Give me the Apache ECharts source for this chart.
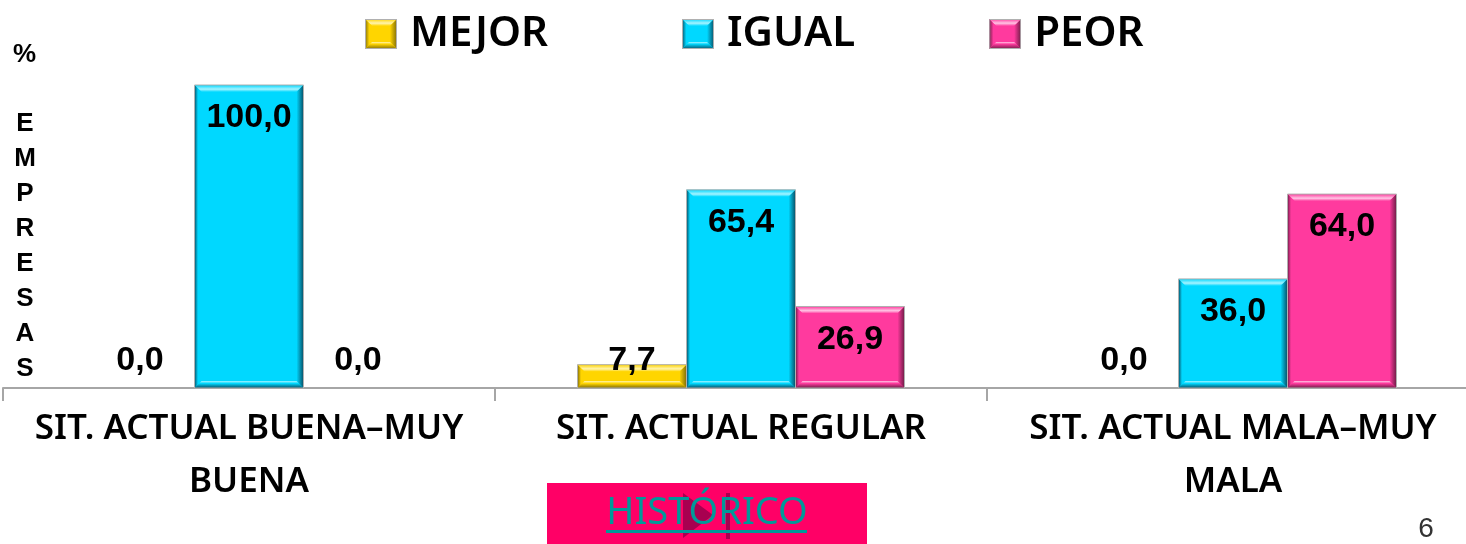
<!DOCTYPE html>
<html>
<head>
<meta charset="utf-8">
<title>Situacion actual</title>
<style>
html, body { margin: 0; padding: 0; background: #fff; }
#main { width: 1466px; height: 544px; }
</style>
<script src="https://cdn.jsdelivr.net/npm/echarts@6/dist/echarts.min.js"></script>
</head>
<body>
<div id="main"></div>
<script>
var categories = ['SIT. ACTUAL BUENA–MUY\nBUENA', 'SIT. ACTUAL REGULAR', 'SIT. ACTUAL MALA–MUY\nMALA'];
var seriesNames = ['MEJOR', 'IGUAL', 'PEOR'];
var mejor = [0.0, 7.7, 0.0];
var igual = [100.0, 65.4, 36.0];
var peor = [0.0, 26.9, 64.0];

// fill, highlight, shadow
var shades = {
    MEJOR: ['#ffd500', '#fff4b0', '#806c08'],
    IGUAL: ['#00d8ff', '#a6f3ff', '#084f66'],
    PEOR: ['#ff3a9e', '#ffc4e4', '#6e1c46']
};
var bevel = 7;

function gradient(x2, y2, stops) {
    return {
        type: 'linear', x: 0, y: 0, x2: x2, y2: y2,
        colorStops: stops.map(function (s) { return { offset: s[0], color: s[1] }; })
    };
}

function swatch(c) {
    var stops = function (id, x2, y2, list) {
        return '<linearGradient id="' + id + '" x1="0" y1="0" x2="' + x2 + '" y2="' + y2 + '">' +
            list.map(function (s) { return '<stop offset="' + s[0] + '" stop-color="' + s[1] + '"/>'; }).join('') +
            '</linearGradient>';
    };
    var svg = '<svg xmlns="http://www.w3.org/2000/svg" width="32" height="30"><defs>' +
        stops('t', 0, 1, [[0, c[0]], [0.6, c[1]], [1, c[0]]]) +
        stops('l', 1, 0, [[0, c[2]], [0.6, c[0]], [1, c[0]]]) +
        stops('r', 1, 0, [[0, c[0]], [1, c[2]]]) +
        stops('b', 0, 1, [[0, c[1]], [0.3, c[0]], [1, c[2]]]) +
        '</defs><rect width="32" height="30" fill="' + c[0] + '"/>' +
        '<polygon points="0,0 32,0 25,7 7,7" fill="url(#t)"/>' +
        '<polygon points="0,0 7,7 7,23 0,30" fill="url(#l)"/>' +
        '<polygon points="32,0 25,7 25,23 32,30" fill="url(#r)"/>' +
        '<polygon points="0,30 7,23 25,23 32,30" fill="url(#b)"/>' +
        '<rect x="0.5" y="0.5" width="31" height="29" fill="none" stroke="#b0b0b0"/>' +
        '</svg>';
    return 'image://data:image/svg+xml;charset=utf-8,' + encodeURIComponent(svg);
}

function renderBar(params, api) {
    var name = seriesNames[params.seriesIndex];
    var c = shades[name];
    var layout = api.barLayout({ count: 3, barWidth: 109, barGap: '0%' })[params.seriesIndex];
    var value = api.value(1);
    var top = api.coord([api.value(0), value]);
    var base = api.coord([api.value(0), 0]);
    var x0 = top[0] + layout.offsetCenter - layout.width / 2;
    var x1 = x0 + layout.width;
    var y0 = top[1];
    var y1 = base[1];
    var children = [];
    if (value > 0) {
        var b = Math.min(bevel, (y1 - y0) / 2);
        var face = function (pts, fill) {
            children.push({ type: 'polygon', shape: { points: pts }, style: { fill: fill } });
        };
        face([[x0, y0], [x1, y0], [x1, y1], [x0, y1]], c[0]);
        face([[x0, y0], [x1, y0], [x1 - b, y0 + b], [x0 + b, y0 + b]], gradient(0, 1, [[0, c[0]], [0.6, c[1]], [1, c[0]]]));
        face([[x0, y0], [x0 + b, y0 + b], [x0 + b, y1 - b], [x0, y1]], gradient(1, 0, [[0, c[2]], [0.5, c[0]], [1, c[0]]]));
        face([[x1, y0], [x1 - b, y0 + b], [x1 - b, y1 - b], [x1, y1]], gradient(1, 0, [[0, c[0]], [1, c[2]]]));
        face([[x0, y1], [x0 + b, y1 - b], [x1 - b, y1 - b], [x1, y1]], gradient(0, 1, [[0, c[1]], [0.35, c[0]], [1, c[2]]]));
        children.push({
            type: 'rect',
            shape: { x: x0, y: y0, width: x1 - x0, height: y1 - y0 },
            style: { fill: 'none', stroke: '#b0b0b0', lineWidth: 1 }
        });
    }
    children.push({
        type: 'text',
        z2: 10,
        style: {
            x: (x0 + x1) / 2,
            y: Math.min(y0 + 33, y1 - 27),
            text: value.toFixed(1).replace('.', ','),
            font: 'bold 34px "Liberation Sans", Arial, sans-serif',
            fill: '#000',
            align: 'center',
            verticalAlign: 'middle'
        }
    });
    return { type: 'group', children: children };
}

function makeSeries(name, values) {
    return {
        name: name,
        type: 'custom',
        renderItem: renderBar,
        encode: { x: 0, y: 1 },
        itemStyle: { color: shades[name][0] },
        data: values.map(function (v, i) { return [i, v]; })
    };
}

var myChart = echarts.init(document.getElementById('main'));
var option = {
    animation: false,
    backgroundColor: '#fff',
    legend: {
        left: 365,
        top: 13,
        padding: 0,
        itemWidth: 32,
        itemHeight: 30,
        itemGap: 134,
        textStyle: {
            fontFamily: '"Noto Sans", sans-serif',
            fontSize: 42,
            fontWeight: 600,
            color: '#000',
            padding: [0, 0, 6, 8]
        },
        data: seriesNames.map(function (n) {
            return { name: n, icon: swatch(shades[n]) };
        })
    },
    grid: { left: 3, top: 85, width: 1476, height: 303, outerBoundsMode: 'none' },
    xAxis: {
        type: 'category',
        data: categories,
        axisLine: { lineStyle: { color: '#a6a6a6', width: 2 } },
        axisTick: { show: true, length: 13, lineStyle: { color: '#a6a6a6', width: 2 } },
        axisLabel: {
            interval: 0,
            margin: 15,
            lineHeight: 53,
            fontFamily: '"Noto Sans", sans-serif',
            fontSize: 35,
            fontWeight: 600,
            color: '#000'
        }
    },
    yAxis: {
        type: 'value',
        min: 0,
        max: 100,
        show: false
    },
    graphic: [
        { type: 'text', x: 13, y: 42, style: { text: '%', font: 'bold 26px "Liberation Sans", Arial, sans-serif', fill: '#000' } },
        { type: 'text', x: 25, y: 106, style: { text: 'E\nM\nP\nR\nE\nS\nA\nS', font: 'bold 26px "Liberation Sans", Arial, sans-serif', lineHeight: 35, align: 'center', fill: '#000' } },
        { type: 'rect', shape: { x: 547, y: 483, width: 320, height: 61 }, style: { fill: '#ff0066' } },
        { type: 'polygon', shape: { points: [[683, 493], [713, 515], [683, 538]] }, style: { fill: '#a80050' } },
        { type: 'rect', shape: { x: 726, y: 493, width: 4, height: 46 }, style: { fill: '#a80050' } },
        { type: 'text', x: 707, y: 513, style: { text: 'HISTÓRICO', font: '38px "Noto Sans", sans-serif', fill: '#009999', align: 'center', verticalAlign: 'middle' } },
        { type: 'rect', shape: { x: 606, y: 530, width: 201, height: 3 }, style: { fill: '#009999' } },
        { type: 'text', x: 1426, y: 529, style: { text: '6', font: '28px "Liberation Sans", Arial, sans-serif', fill: '#333', align: 'center', verticalAlign: 'middle' } }
    ],
    series: [
        makeSeries('MEJOR', mejor),
        makeSeries('IGUAL', igual),
        makeSeries('PEOR', peor)
    ]
};
myChart.setOption(option);
</script>
</body>
</html>
